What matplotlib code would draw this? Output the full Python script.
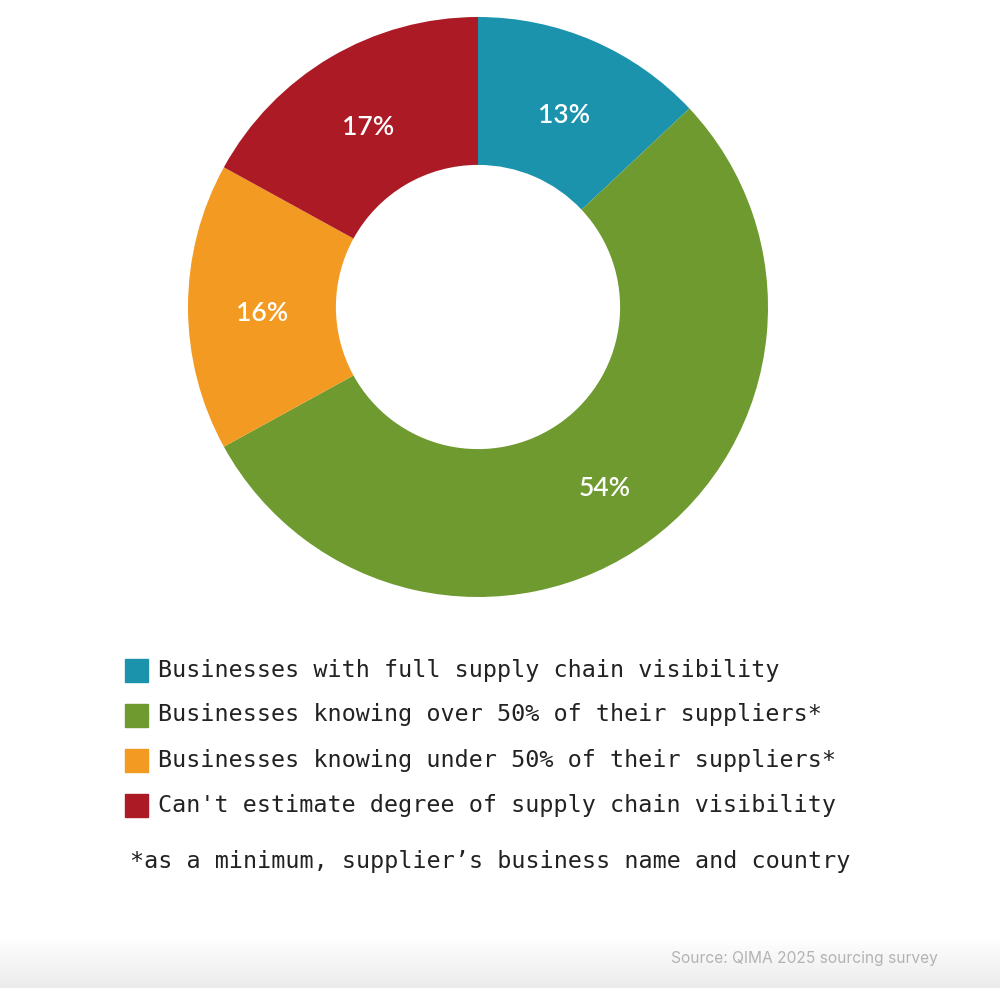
import numpy as np
import matplotlib
matplotlib.use("Agg")
import matplotlib.pyplot as plt

# data
labels = [
    "Businesses with full supply chain visibility",
    "Businesses knowing over 50% of their suppliers*",
    "Businesses knowing under 50% of their suppliers*",
    "Can't estimate degree of supply chain visibility",
]
shares = [13, 54, 16, 17]
colors = ["#1b93ad", "#6e9a2f", "#f39a22", "#ac1a26"]
footnote = "*as a minimum, supplier\u2019s business name and country"
source = "Source: QIMA 2025 sourcing survey"

W, H = 1000, 988
fig = plt.figure(figsize=(W / 100, H / 100), dpi=100)
fig.patch.set_facecolor("white")

# faint grey fade at the bottom edge
bg = fig.add_axes([0, 0, 1, 50 / H])
grad = np.linspace(0, 1, 50).reshape(-1, 1)
bg.imshow(grad, aspect="auto", cmap=matplotlib.colors.LinearSegmentedColormap.from_list(
    "fade", ["#ebebeb", "#ffffff"]), origin="lower", extent=[0, 1, 0, 1])
bg.axis("off")

# donut
cx, cy, r = 478, 307, 290
ax = fig.add_axes([(cx - r) / W, (H - cy - r) / H, 2 * r / W, 2 * r / H])
wedges, _, autotexts = ax.pie(
    shares, colors=colors, startangle=90, counterclock=False,
    radius=1, wedgeprops=dict(width=0.51, linewidth=0),
    autopct=lambda p: f"{p:.0f}%", pctdistance=0.745,
    textprops=dict(color="white", fontsize=19, fontfamily="Lato", fontweight="semibold"),
)
# labels sit a touch lower in the original
for t in autotexts:
    x, y = t.get_position()
    t.set_position((x, y - 0.022))
ax.set_xlim(-1, 1)
ax.set_ylim(-1, 1)
ax.set_aspect("equal")
ax.axis("off")

# legend
rows_y = [670, 715, 760, 805]
for lab, col, y in zip(labels, colors, rows_y):
    fig.patches.append(plt.Rectangle((125 / W, (H - y - 11.5) / H), 23 / W, 23 / H,
                                     transform=fig.transFigure, color=col))
    fig.text(158 / W, (H - y) / H, lab, fontsize=16.8, fontfamily="DejaVu Sans Mono",
             color="#222222", va="center", ha="left")
fig.text(130 / W, (H - 861) / H, footnote, fontsize=16.8, fontfamily="DejaVu Sans Mono",
         color="#222222", va="center", ha="left")

fig.text(938 / W, (H - 958) / H, source, fontsize=11.2, fontfamily="Inter",
         color="#b3b3b3", va="center", ha="right")

fig.savefig("out.png", dpi=100)
